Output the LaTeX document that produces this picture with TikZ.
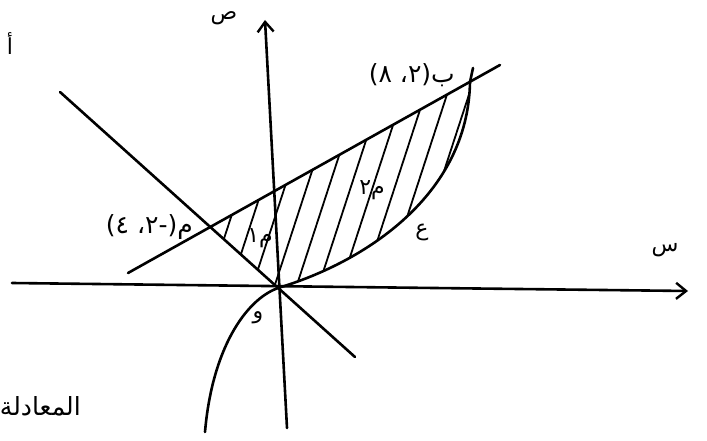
\documentclass[tikz,border=0pt]{standalone}
\usepackage{fontspec}
\newfontfamily\arabicfont[Script=Arabic]{DejaVu Sans}
\TeXXeTstate=1
\usetikzlibrary{arrows.meta, positioning}

\begin{document}
\begin{tikzpicture}[
    x=1pt, y=-1pt,
    pen/.style={line width=2.6pt, line cap=round, line join=round},
    axis/.style={pen, -{Straight Barb[length=10pt, width=16pt, line width=2.4pt]}},
    hatch/.style={line width=1.8pt, line cap=round},
    lbl/.style={font=\arabicfont\fontsize{22}{26}\selectfont, inner sep=1pt},
    biglbl/.style={lbl, font=\arabicfont\fontsize{25}{30}\selectfont}
]
\useasboundingbox (0,0) rectangle (707,441);

% Key points
\coordinate (O) at (278,288);
\coordinate (A) at (210,227);
\coordinate (B) at (470,82);

% Axes
\coordinate (xs) at (12,283);
\coordinate (xe) at (688,291);
\coordinate (ys) at (287,428);
\coordinate (ye) at (265,20);
\draw[axis] (xs) -- (xe);
\draw[axis] (ys) -- (ye);

% Shaded region
\begin{scope}
  \clip (A) -- (B) .. controls (468,195) and (365,262) .. (O) -- cycle;
  \foreach \x in {160,182,...,480}
    \draw[hatch] (\x,300) -- ++(75,-230);
\end{scope}

% Lines
\coordinate (p1) at (60,92);
\coordinate (p2) at (355,357);
\coordinate (q1) at (128,273);
\coordinate (q2) at (500,65);
\draw[pen] (p1) -- (p2);
\draw[pen] (q1) -- (q2);

% Curve
\coordinate (c1) at (205,432);
\coordinate (c2) at (473,68);
\draw[pen] (c1) .. controls (212,350) and (245,300) .. (O)
  .. controls (365,262) and (468,195) .. (B) -- (c2);

% Labels
\node[lbl] (ylab) at (224,18) {\beginR ص\endR};
\node[lbl] (xlab) at (665,250) {\beginR س\endR};
\node[biglbl, above left=-6pt and 14pt of B] (Blab) {\beginR ب(٢، ٨)\endR};
\node[biglbl, left=16pt of A] (Alab) {\beginR م(-٢، ٤)\endR};
\node[lbl] (m1) at (260,238) {\beginR م١\endR};
\node[lbl] (m2) at (372,190) {\beginR م٢\endR};
\node[lbl] (clab) at (422,232) {\beginR ع\endR};
\node[lbl] (Olab) at (258,318) {\beginR و\endR};

% Cut-off page text
\node[lbl] (frag1) at (10,44) {\beginR أ\endR};
\node[biglbl, anchor=east] (frag2) at (82,406) {\beginR المعادلة\endR};
\end{tikzpicture}
\end{document}
